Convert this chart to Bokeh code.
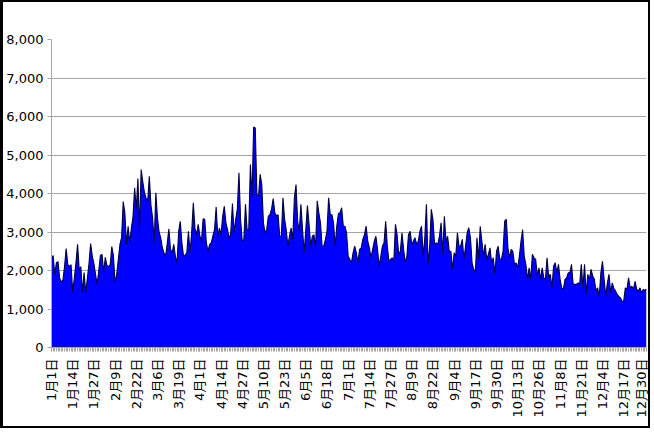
import math
from bokeh.plotting import figure
from bokeh.models import Range1d, FixedTicker, NumeralTickFormatter
from bokeh.embed import file_html
from bokeh.resources import INLINE

# Daily values, Jan 1 - Dec 31 (leap year, 366 days)
jan_feb = [2300, 2390, 1900, 2200, 2230, 1800, 1700, 1750, 2100, 2570,
           2150, 2100, 2150, 1450, 1800, 2200, 2680, 2020, 2100, 1430,
           1950, 1420, 1800, 2180, 2700, 2380, 2180, 1900, 1640, 2000,
           2390, 2420, 1950, 2340, 2130, 2100, 2150, 2620, 2380, 1680,
           1900, 2290, 2680, 2860, 3790, 3500, 2680, 3150, 2720, 3100,
           3400, 4150, 3590, 4390, 3060, 4620, 4300, 4030, 3880, 3790]
mar_apr = [4450, 3700, 3370, 2720, 4020, 3370, 3000, 2850, 2590, 2460,
           2370, 2700, 3080, 2550, 2460, 2680, 2370, 2190, 3020, 3280,
           2720, 2370, 2400, 2460, 3020, 2460, 3000, 3760, 3100, 2930,
           3200, 2900, 2760, 3340, 3330, 2720, 2500, 2680, 2720, 2900,
           3060, 3650, 2890, 3100, 2930, 3410, 3670, 3240, 3060, 2800,
           3000, 3740, 2980, 3330, 3600, 4540, 3330, 2760, 2800, 3720,
           3060]
may_jun = [3060, 4750, 3900, 5730, 5700, 3980, 3930, 4500, 4230, 3240,
           2980, 3060, 3410, 3450, 3600, 3870, 3500, 3410, 3450, 2890,
           2890, 3890, 3330, 3060, 2630, 2900, 3100, 2800, 3890, 4230,
           3280, 3020, 3720, 3060, 2460, 3060, 3690, 3200, 2630, 2890,
           2930, 2590, 3810, 3500, 3240, 2630, 2630, 2800, 3020, 3890,
           3450, 3450, 3240, 2630, 3150, 3480, 3500, 3630, 3150, 3150,
           2980]
jul_aug = [2370, 2290, 2200, 2460, 2630, 2460, 2200, 2550, 2590, 2810,
           2930, 3150, 2760, 2590, 2330, 2550, 2760, 2890, 2550, 2110,
           2370, 2630, 2720, 3280, 2630, 2240, 2290, 2330, 2240, 3200,
           2930, 2420, 2500, 2980, 2550, 2200, 2370, 2930, 3020, 2680,
           2760, 2850, 2680, 2760, 3020, 3150, 2370, 2850, 3720, 2160,
           2630, 3590, 3320, 2680, 2720, 2680, 2900, 3240, 2420, 3410]
sep_oct = [2760, 2890, 2500, 2500, 2030, 2460, 2370, 2980, 2630, 2630,
           2810, 2290, 2630, 2980, 3110, 2850, 2200, 2030, 1940, 2850,
           2290, 3150, 2760, 2370, 2680, 2290, 2420, 2590, 2200, 2330,
           1900, 2500, 2630, 2290, 2290, 2500, 3280, 3330, 2590, 2330,
           2550, 2500, 2160, 2200, 2070, 2370, 2760, 3060, 2370, 2160,
           1770, 2070, 1770, 2420, 2330, 2290, 1860, 2070, 1770]
nov_dec = [2070, 1810, 1770, 2330, 1810, 1900, 1550, 2110, 2200, 1940,
           2160, 1770, 1550, 1510, 1770, 1810, 1940, 1940, 2160, 1640,
           1640, 1640, 1680, 1640, 2160, 1550, 2160, 1380, 1900, 1770,
           2030, 1860, 1770, 1470, 1550, 1330, 1940, 2240, 1770, 1330,
           1680, 1900, 1420, 1680, 1530, 1470, 1380, 1330, 1290, 1200,
           1200, 1550, 1510, 1810, 1550, 1590, 1510, 1720, 1510, 1470,
           1550, 1420, 1510, 1480, 1520]

values = jan_feb + mar_apr + may_jun + jul_aug + sep_oct + nov_dec
days = list(range(len(values)))

tick_days = list(range(0, 365, 13))
tick_labels = ["1月1日", "1月14日", "1月27日", "2月9日", "2月22日", "3月6日",
               "3月19日", "4月1日", "4月14日", "4月27日", "5月10日", "5月23日",
               "6月5日", "6月18日", "7月1日", "7月14日", "7月27日", "8月9日",
               "8月22日", "9月4日", "9月17日", "9月30日", "10月13日", "10月26日",
               "11月8日", "11月21日", "12月4日", "12月17日", "12月30日"]
y_ticks = [0, 1000, 2000, 3000, 4000, 5000, 6000, 7000, 8000]

p = figure(width=650, height=428, output_backend="svg", toolbar_location=None,
           x_range=Range1d(0, len(values) - 1), y_range=Range1d(0, 8000),
           min_border_left=47, min_border_right=7, min_border_top=37,
           min_border_bottom=83)
p.styles = {"border": "2px solid black", "border-left": "3px solid black"}
p.outline_line_color = None
p.background_fill_color = "white"
p.border_fill_color = "white"

p.varea(x=days, y1=0, y2=values, fill_color="#0000FF", fill_alpha=1.0)
p.line(x=days, y=values, line_color="#000040", line_width=1.1)

grid_color = "#a6a6a6"
p.xgrid.visible = False
p.ygrid.grid_line_color = grid_color
p.ygrid.ticker = FixedTicker(ticks=y_ticks)

p.yaxis.ticker = FixedTicker(ticks=y_ticks)
p.yaxis.formatter = NumeralTickFormatter(format="0,0")
p.yaxis.axis_line_color = grid_color
p.yaxis.major_tick_line_color = grid_color
p.yaxis.major_tick_out = 4
p.yaxis.major_tick_in = 0
p.yaxis.minor_tick_line_color = None
p.yaxis.major_label_standoff = 4
p.yaxis.major_label_text_font = "DejaVu Sans"
p.yaxis.major_label_text_font_size = "13px"
p.yaxis.major_label_text_color = "black"

p.xaxis.ticker = FixedTicker(ticks=tick_days, minor_ticks=days)
p.xaxis.major_label_overrides = {d: s for d, s in zip(tick_days, tick_labels)}
p.xaxis.major_label_orientation = math.pi / 2
p.xaxis.axis_line_color = grid_color
p.xaxis.major_tick_line_color = grid_color
p.xaxis.minor_tick_line_color = grid_color
p.xaxis.major_tick_out = 4
p.xaxis.major_tick_in = 0
p.xaxis.minor_tick_out = 4
p.xaxis.minor_tick_in = 0
p.xaxis.major_label_standoff = 7
p.xaxis.major_label_text_font = "DejaVu Sans, Noto Sans CJK JP"
p.xaxis.major_label_text_font_size = "13px"
p.xaxis.major_label_text_color = "black"

open("out.html", "w").write(file_html(p, INLINE))
